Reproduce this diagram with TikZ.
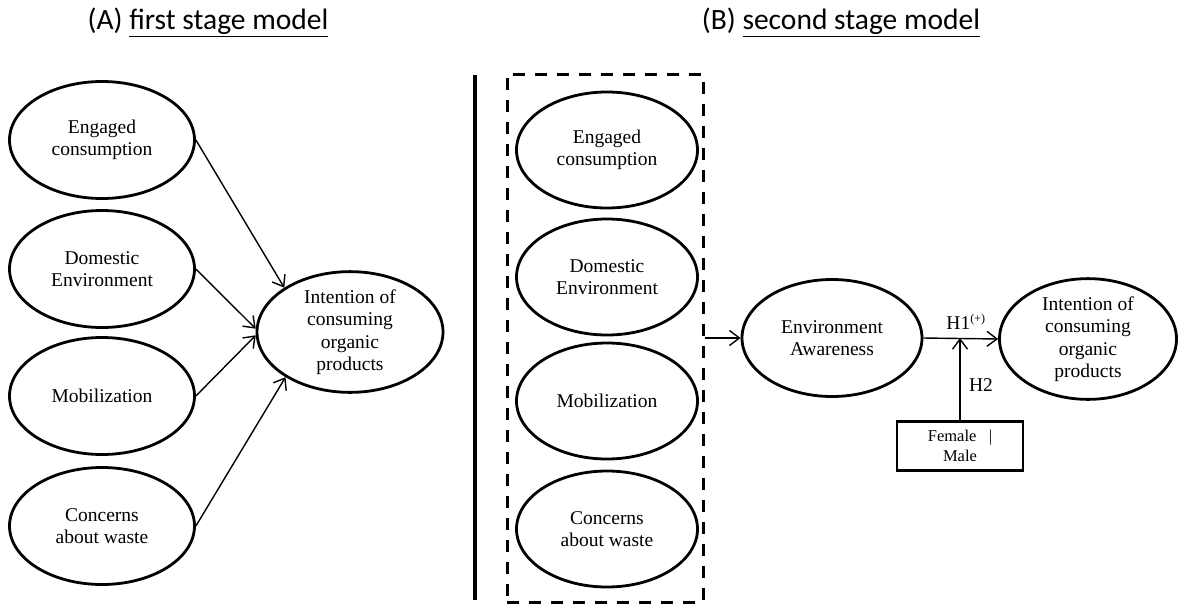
\documentclass[tikz,border=0pt]{standalone}
\usepackage{fontspec}
\setmainfont{Liberation Serif}
\newfontfamily\titlefont{Carlito}
\usetikzlibrary{shapes.geometric,arrows.meta}
\begin{document}
\begin{tikzpicture}[x=1pt,y=-1pt,
  lat/.style={ellipse,draw,line width=2.8pt,inner sep=0pt,align=center,
    font=\fontsize{19.5}{22.5}\selectfont,minimum width=185pt,minimum height=117pt},
  latb/.style={lat,minimum width=181pt,minimum height=116pt},
  arr/.style={line width=1.4pt,-{Straight Barb[length=10pt,width=15pt,line width=1.4pt]}},
  ttl/.style={font=\titlefont\fontsize{29.5}{33}\selectfont,inner sep=0pt},
  lbl/.style={font=\fontsize{19.5}{22}\selectfont,inner sep=0pt}]
\useasboundingbox (0,0) rectangle (1179,603);
% titles
\node[ttl] (tA) at (208,22) {(A) \underline{first stage model}};
\node[ttl] (tB) at (841,22) {(B) \underline{second stage model}};
% (A)
\node[lat] (a1) at (102,140) {Engaged\\consumption};
\node[lat] (a2) at (102,269) {Domestic\\Environment};
\node[lat] (a3) at (102,396) {Mobilization};
\node[lat] (a4) at (102,526) {Concerns\\about waste};
\node[lat,minimum width=186pt,minimum height=118pt] (ai) at (350,332) {Intention of\\consuming\\organic\\products};
\draw[arr] (a1.east) -- (ai.146);
\draw[arr] (a2.east) -- (ai.178);
\draw[arr] (a3.east) -- (ai.182);
\draw[arr] (a4.east) -- (ai.215);
% separator
\coordinate (s1) at (475,75);
\coordinate (s2) at (475,600);
\draw[line width=4pt] (s1) -- (s2);
% (B)
\node[draw,line width=3pt,dash pattern=on 12pt off 10pt,minimum width=196pt,minimum height=528pt,inner sep=0pt] (grp) at (605,338) {};
\node[latb] (b1) at (607,150) {Engaged\\consumption};
\node[latb] (b2) at (607,277) {Domestic\\Environment};
\node[latb] (b3) at (607,401) {Mobilization};
\node[latb] (b4) at (607,529) {Concerns\\about waste};
\node[lat,minimum width=180pt,minimum height=117pt] (ea) at (832,338) {Environment\\Awareness};
\node[lat,minimum width=177pt,minimum height=115pt] (bi) at (1088,339) {Intention of\\consuming\\organic\\products};
\draw[arr] (grp.east) -- (ea.west);
\draw[arr] (ea.east) -- (bi.west);
\node[draw,line width=2.8pt,minimum width=126pt,minimum height=49pt,inner sep=0pt,align=center,
  font=\fontsize{16.5}{20}\selectfont] (mod) at (960,446) {Female \ \ |\\Male};
\coordinate (h1) at (960,338);
\draw[arr] (mod.north) -- (h1);
\node[lbl] (lh1) at (966,322) {H1\textsuperscript{\fontsize{12}{12}\selectfont(+)}};
\node[lbl] (lh2) at (981,385) {H2};
\end{tikzpicture}
\end{document}
